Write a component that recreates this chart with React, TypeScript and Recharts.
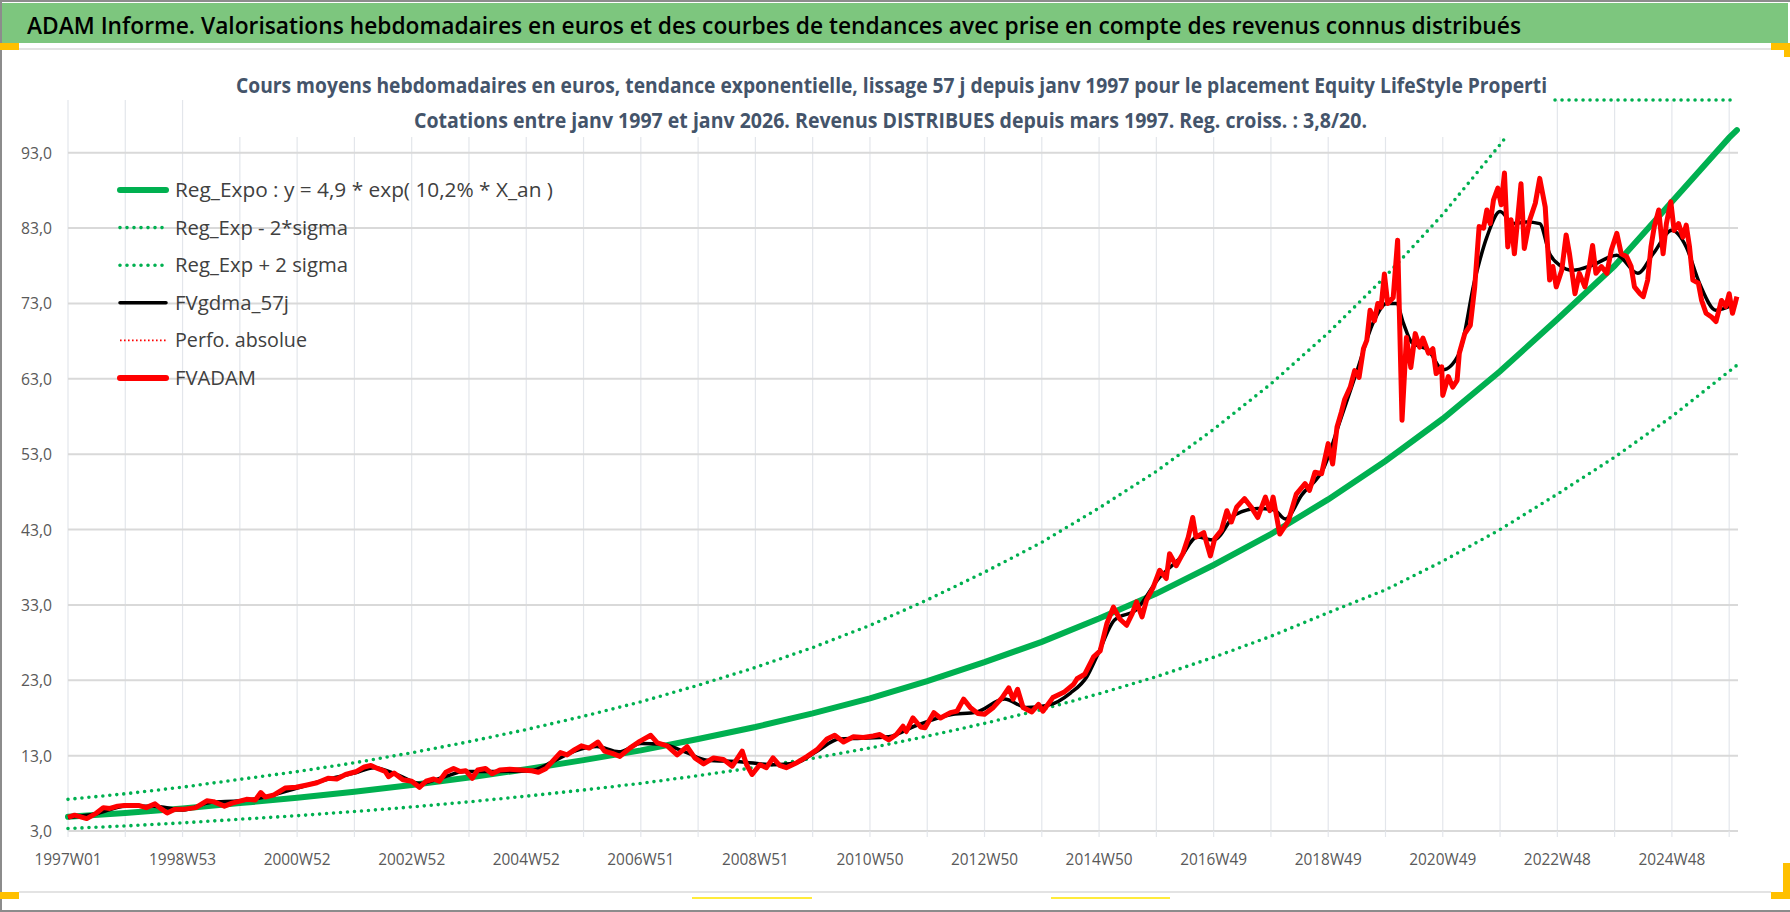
import React from 'react';
import { LineChart, Line, XAxis, YAxis, CartesianGrid } from 'recharts';

// ---------- texts ----------
const mainTitle = 'ADAM Informe. Valorisations hebdomadaires en euros et des courbes de tendances avec prise en compte des revenus connus distribués';
const subTitle1 = 'Cours moyens hebdomadaires en euros, tendance exponentielle, lissage 57 j depuis janv 1997 pour le placement Equity LifeStyle  Properti';
const subTitle2 = 'Cotations entre janv 1997 et janv 2026. Revenus DISTRIBUES depuis mars 1997.  Reg. croiss. : 3,8/20.';

// ---------- axes ----------
const xTickLabels = ['1997W01', '1998W53', '2000W52', '2002W52', '2004W52', '2006W51', '2008W51', '2010W50', '2012W50', '2014W50', '2016W49', '2018W49', '2020W49', '2022W48', '2024W48'];
const gridWeeks = [0, 52, 104, 156, 208, 260, 312, 364, 416, 468, 520, 572, 624, 676, 728, 780, 832, 884, 936, 988, 1040, 1092, 1144, 1196, 1248, 1300, 1352, 1404, 1456, 1508];
const yTicks = [3, 13, 23, 33, 43, 53, 63, 73, 83, 93];
const yDomain = [3, 100];
const xDomain = [0, 1516];

// ---------- series ----------
const trendWeeks = [0, 52, 104, 156, 208, 260, 312, 364, 416, 468, 520, 572, 624, 676, 728, 780, 832, 884, 936, 988, 1040, 1092, 1144, 1196, 1248, 1300, 1352, 1404, 1456, 1508, 1515];
const trendValues = [4.9, 5.4, 6.0, 6.7, 7.4, 8.2, 9.1, 10.1, 11.2, 12.4, 13.7, 15.2, 16.8, 18.6, 20.6, 22.9, 25.4, 28.1, 31.2, 34.5, 38.3, 42.4, 47.0, 52.1, 57.7, 64.0, 70.9, 78.0, 86.5, 95.0, 96.0];
const lowerValues = [3.33, 3.67, 4.08, 4.56, 5.03, 5.58, 6.19, 6.87, 7.62, 8.44, 9.32, 10.34, 11.43, 12.65, 14.01, 15.58, 17.28, 19.12, 21.22, 23.47, 26.05, 28.84, 31.97, 35.0, 38.8, 43.0, 47.7, 52.6, 58.0, 64.0, 64.8];
const upperWeeks = [0, 52, 104, 156, 208, 260, 312, 364, 416, 468, 520, 572, 624, 676, 728, 780, 832, 884, 936, 988, 1040, 1092, 1144, 1196, 1248, 1300, 1320, 1334, 1515];
const upperValues = [7.2, 7.94, 8.82, 9.85, 10.88, 12.05, 13.38, 14.85, 16.46, 18.23, 20.14, 22.34, 24.7, 27.34, 30.28, 33.66, 37.34, 41.31, 45.86, 50.72, 56.3, 62.33, 69.09, 76.59, 84.82, 94.08, 97.9, 100, 100];

const smoothWeeks = [0, 26, 52, 78, 104, 130, 156, 182, 208, 234, 260, 278, 300, 320, 340, 360, 390, 420, 440, 460, 480, 500, 520, 540, 560, 580, 610, 640, 660, 680, 700, 720, 745, 770, 800, 825, 850, 870, 890, 910, 925, 935, 950, 970, 990, 1010, 1025, 1040, 1060, 1080, 1095, 1105, 1120, 1140, 1155, 1170, 1185, 1197, 1206, 1212, 1220, 1235, 1248, 1263, 1277, 1288, 1300, 1312, 1324, 1336, 1345, 1354, 1366, 1384, 1406, 1425, 1439, 1456, 1469, 1481, 1496, 1511];
const smoothValues = [4.8, 5.3, 6.3, 6.3, 5.8, 6.8, 7.0, 7.6, 8.7, 9.8, 10.7, 11.4, 10.4, 9.3, 10.1, 10.9, 10.9, 11.0, 12.2, 13.6, 14.2, 13.5, 14.6, 14.5, 13.5, 12.4, 12.2, 11.8, 12.0, 13.6, 15.2, 15.3, 15.5, 17.0, 18.4, 18.8, 20.5, 19.4, 19.7, 21.3, 23.5, 26.5, 31.0, 32.4, 36.5, 39.3, 42.0, 41.6, 45.0, 45.8, 45.6, 44.4, 47.6, 51.2, 57.5, 64.0, 70.5, 73.0, 73.0, 70.5, 67.8, 66.8, 64.2, 66.4, 76.1, 81.8, 85.2, 83.6, 83.8, 83.6, 79.6, 78.1, 77.4, 78.1, 79.4, 77.0, 79.6, 82.7, 80.5, 75.7, 72.1, 72.8];

const fvWeeks = [0, 6, 17, 25, 32, 38, 45, 51, 64, 71, 79, 84, 90, 97, 106, 116, 126, 132, 142, 149, 162, 170, 175, 179, 187, 197, 207, 217, 226, 236, 244, 252, 262, 269, 275, 281, 288, 291, 296, 304, 312, 319, 325, 332, 337, 343, 350, 356, 361, 367, 372, 379, 385, 392, 401, 411, 421, 427, 434, 442, 447, 453, 460, 466, 473, 481, 487, 494,
  501, 510, 519, 529, 535, 544, 553, 562, 569, 577, 586, 595, 603, 612, 616, 621, 628, 634, 640, 646, 652, 662, 671, 680, 689, 696, 704, 713, 722, 731, 737, 745, 752, 758, 761, 767, 774, 778, 786, 792, 801, 807, 813, 819, 826, 832, 840, 848, 854, 858, 862, 867, 875, 881, 885, 894, 904, 913,
  916, 923, 931, 937, 943, 949, 955, 961, 966, 970, 975, 979, 985, 991, 997, 1000, 1006, 1012, 1017, 1021, 1024, 1031, 1037, 1041, 1047, 1052, 1056, 1061, 1068, 1074, 1080, 1087, 1091, 1094, 1100, 1108, 1115, 1123, 1127, 1132, 1138, 1144, 1148, 1152, 1156, 1159, 1164, 1168, 1172, 1176, 1179, 1182, 1186, 1189, 1192, 1195, 1198, 1203, 1207, 1211, 1215, 1219, 1223, 1227,
  1230, 1235, 1239, 1242, 1247, 1248, 1253, 1257, 1261, 1263, 1268, 1273, 1277, 1281, 1285, 1288, 1291, 1294, 1298, 1301, 1304, 1307, 1310, 1313, 1319, 1322, 1327, 1332, 1336, 1341, 1345, 1348, 1351, 1356, 1360, 1363, 1368, 1372, 1377, 1381, 1384, 1387, 1392, 1397, 1401, 1406, 1410, 1415, 1419, 1422, 1427, 1430, 1434, 1437, 1440, 1444, 1448, 1451, 1455, 1458, 1462, 1466, 1469, 1472, 1475, 1480, 1483, 1487, 1492, 1496, 1501, 1505, 1508, 1511, 1515];
const fvValues = [4.8, 5.1, 4.65, 5.3, 6.1, 6.0, 6.3, 6.4, 6.4, 6.1, 6.6, 6.0, 5.4, 5.9, 5.9, 6.1, 7.0, 6.9, 6.3, 6.7, 7.2, 7.1, 8.1, 7.5, 7.8, 8.7, 8.8, 9.1, 9.4, 10.0, 9.9, 10.5, 10.9, 11.5, 11.7, 11.3, 10.9, 10.2, 10.7, 9.8, 9.6, 8.8, 9.6, 9.9, 9.6, 10.8, 11.3, 10.9, 11.0, 10.0, 11.1, 11.3, 10.6, 11.1, 11.2, 11.1, 11.0, 10.8, 11.3, 12.6, 13.4, 13.1, 13.8, 14.3, 14.0, 14.8, 13.6, 13.3,
  12.9, 14.0, 14.9, 15.7, 14.7, 14.3, 13.1, 14.2, 12.7, 11.9, 12.7, 12.5, 11.6, 13.6, 11.8, 10.5, 11.8, 11.4, 12.7, 11.7, 11.4, 12.1, 12.9, 13.8, 15.2, 15.7, 14.8, 15.5, 15.4, 15.6, 15.8, 15.1, 15.8, 16.9, 16.2, 18.0, 16.8, 16.7, 18.7, 18.0, 18.7, 18.9, 20.5, 19.4, 18.6, 18.5, 19.4, 20.7, 22.0, 20.5, 21.8, 19.4, 18.8, 19.8, 18.9, 20.7, 21.4, 22.5,
  23.2, 23.8, 26.1, 26.9, 30.5, 32.7, 31.1, 30.3, 31.8, 33.4, 31.4, 33.6, 35.3, 37.6, 36.5, 39.8, 38.2, 39.8, 42.0, 44.6, 42.0, 42.6, 39.5, 41.8, 42.9, 45.5, 44.0, 46.0, 47.1, 46.0, 44.6, 47.3, 45.5, 47.3, 42.4, 44.2, 47.7, 49.1, 48.2, 50.6, 50.4, 54.4, 51.7, 56.6, 58.6, 60.3, 61.9, 64.1, 63.2, 67.0, 68.1, 72.1, 70.7, 73.0, 72.5, 76.9, 73.0, 73.8, 81.4, 57.5, 68.5, 64.5, 69.0, 67.2,
  68.4, 66.4, 67.0, 63.7, 64.6, 60.8, 63.3, 61.9, 62.8, 66.4, 69.0, 70.1, 75.2, 83.2, 83.0, 85.4, 83.6, 86.7, 88.3, 86.1, 90.3, 80.5, 84.1, 79.6, 88.9, 80.3, 84.1, 86.3, 89.6, 85.8, 76.1, 77.9, 75.2, 77.4, 82.1, 79.6, 74.3, 77.0, 75.2, 77.9, 80.7, 77.0, 77.9, 77.0, 80.1, 82.3, 79.6, 79.2, 77.9, 75.2, 74.3, 73.9, 76.1, 80.5, 83.2, 85.4, 79.6, 83.6, 86.5, 82.7, 83.6, 81.8, 83.4, 80.5, 76.1, 75.7, 73.4, 71.7, 71.2, 70.6, 73.4, 72.6, 74.3, 71.7, 73.9];

const zip = (w: number[], v: number[]) => w.map((week, i) => ({ week, v: v[i] }));
const trendData = zip(trendWeeks, trendValues);
const lowerData = zip(trendWeeks, lowerValues);
const upperData = zip(upperWeeks, upperValues);
const smoothData = zip(smoothWeeks, smoothValues);
const fvData = zip(fvWeeks, fvValues);
const perfoData: { week: number; v: number }[] = [];

// ---------- styles ----------
const GREEN = '#00B050';
const RED = '#FF0000';
const FONT = '"Open Sans", "DejaVu Sans", sans-serif';
const AXIS_COLOR = '#595959';

const legendItems = [
  { name: 'Reg_Expo : y = 4,9 * exp( 10,2% *  X_an )', color: GREEN, width: 6, dash: '', cap: 'round', textLen: 378 },
  { name: 'Reg_Exp - 2*sigma', color: GREEN, width: 3.6, dash: '0 7', cap: 'round', textLen: 173 },
  { name: 'Reg_Exp + 2 sigma', color: GREEN, width: 3.6, dash: '0 7', cap: 'round', textLen: 173 },
  { name: 'FVgdma_57j', color: '#000000', width: 3.5, dash: '', cap: 'round', textLen: 114 },
  { name: 'Perfo. absolue', color: RED, width: 1.6, dash: '1.6 2.4', cap: 'butt', textLen: 132 },
  { name: 'FVADAM', color: RED, width: 6, dash: '', cap: 'round', textLen: 81 },
];

const XTick = (props: any) => {
  const { x, y, payload } = props;
  const w = payload.value as number;
  if (w % 104 !== 0) return <g />;
  const label = xTickLabels[w / 104];
  return (
    <text x={x} y={y} dy={28} textAnchor="middle" fontSize={16.5} fill={AXIS_COLOR} fontFamily={FONT} textLength={67} lengthAdjust="spacingAndGlyphs">
      {label}
    </text>
  );
};

const YTick = (props: any) => {
  const { x, y, payload } = props;
  const label = (payload.value as number).toFixed(1).replace('.', ',');
  return (
    <text x={x} y={y} dy={6} textAnchor="end" fontSize={16.5} fill={AXIS_COLOR} fontFamily={FONT} textLength={label.length === 4 ? 31 : 22} lengthAdjust="spacingAndGlyphs">
      {label}
    </text>
  );
};

export default function App() {
  return (
    <div style={{ position: 'absolute', left: 0, top: 0, width: 1790, height: 912, background: '#fff', overflow: 'hidden' }}>
      <div style={{ position: 'absolute', left: 0, top: 0 }}>
        <LineChart width={1790} height={912} margin={{ top: 100, right: 52, bottom: 51, left: 0 }}>
          <CartesianGrid horizontal={false} vertical={true} verticalValues={gridWeeks} stroke="#E3E6EB" strokeWidth={1.2} />
          <CartesianGrid vertical={false} horizontal={true} horizontalValues={yTicks} stroke="#D9D9D9" strokeWidth={2} />
          <XAxis dataKey="week" type="number" domain={xDomain} ticks={gridWeeks} interval={0} height={30} tickSize={6} tickMargin={0} axisLine={false} tickLine={{ stroke: '#E3E6EB', strokeWidth: 1.2 }} tick={<XTick />} />
          <YAxis type="number" domain={yDomain} ticks={yTicks} width={68} tickSize={0} tickMargin={16} axisLine={false} tickLine={false} tick={<YTick />} interval={0} />
          <Line data={trendData} dataKey="v" name="Reg_Expo" stroke={GREEN} strokeWidth={6} dot={false} activeDot={false} isAnimationActive={false} type="linear" strokeLinecap="round" />
          <Line data={lowerData} dataKey="v" name="Reg_Exp - 2*sigma" stroke={GREEN} strokeWidth={3.6} strokeDasharray="0 7" strokeLinecap="round" dot={false} activeDot={false} isAnimationActive={false} type="linear" />
          <Line data={upperData} dataKey="v" name="Reg_Exp + 2 sigma" stroke={GREEN} strokeWidth={3.6} strokeDasharray="0 7" strokeLinecap="round" dot={false} activeDot={false} isAnimationActive={false} type="linear" />
          <Line data={smoothData} dataKey="v" name="FVgdma_57j" stroke="#000000" strokeWidth={3.5} dot={false} activeDot={false} isAnimationActive={false} type="monotone" />
          <Line data={perfoData} dataKey="v" name="Perfo. absolue" stroke={RED} strokeWidth={1.6} strokeDasharray="1.6 2.4" dot={false} activeDot={false} isAnimationActive={false} />
          <Line data={fvData} dataKey="v" name="FVADAM" stroke={RED} strokeWidth={5} strokeLinejoin="round" dot={false} activeDot={false} isAnimationActive={false} type="linear" />
        </LineChart>
      </div>
      <svg width={1790} height={912} style={{ position: 'absolute', left: 0, top: 0, pointerEvents: 'none' }}>
        {/* frame */}
        <rect x={0} y={0} width={1790} height={2} fill="#8C8C8C" />
        <rect x={0} y={0} width={2} height={912} fill="#8C8C8C" />
        <rect x={0} y={910} width={1790} height={2} fill="#8C8C8C" />
        {/* title bar */}
        <rect x={2} y={3} width={1786} height={40} fill="#7DC67E" />
        <text x={27} y={34} fontSize={23} fontWeight={600} fill="#000" fontFamily={FONT} textLength={1494} lengthAdjust="spacingAndGlyphs">{mainTitle}</text>
        {/* separators */}
        <rect x={19} y={48} width={1752} height={2} fill="#E3E3E3" />
        <rect x={19} y={891} width={1752} height={2} fill="#E3E3E3" />
        {/* selection handles */}
        <rect x={0} y={43} width={19} height={7} fill="#FFC000" />
        <rect x={1771} y={43} width={19} height={7} fill="#FFC000" />
        <rect x={1784} y={43} width={6} height={14} fill="#FFC000" />
        <rect x={0} y={892} width={19} height={7} fill="#FFC000" />
        <rect x={1771} y={892} width={19} height={7} fill="#FFC000" />
        <rect x={1783} y={863} width={7} height={36} fill="#FFC000" />
        <rect x={692} y={897} width={120} height={2} fill="#FFEB3B" />
        <rect x={1051} y={897} width={119} height={2} fill="#FFEB3B" />
        {/* chart title box */}
        <rect x={205} y={98} width={1348} height={39} fill="#fff" />
        <text x={236} y={93} fontSize={21} fontWeight={700} fill="#44546A" fontFamily={FONT} textLength={1311} lengthAdjust="spacingAndGlyphs">{subTitle1}</text>
        <text x={414} y={128} fontSize={21} fontWeight={700} fill="#44546A" fontFamily={FONT} textLength={953} lengthAdjust="spacingAndGlyphs">{subTitle2}</text>
        {/* legend */}
        {legendItems.map((it, i) => {
          const y = 190 + i * 37.6;
          return (
            <g key={it.name}>
              <line x1={120} x2={166} y1={y} y2={y} stroke={it.color} strokeWidth={it.width} strokeDasharray={it.dash || undefined} strokeLinecap={it.cap as any} />
              <text x={175} y={y + 7} fontSize={20} fill="#404040" fontFamily={FONT} textLength={it.textLen} lengthAdjust="spacingAndGlyphs">{it.name}</text>
            </g>
          );
        })}
      </svg>
    </div>
  );
}
